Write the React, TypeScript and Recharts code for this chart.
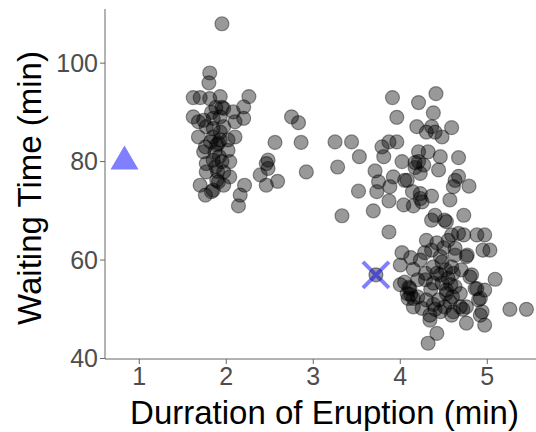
import { Label, Scatter, ScatterChart, XAxis, YAxis } from "recharts";

// eruption duration (min)
const durations = [
  1.95, 1.81, 1.8, 1.62, 1.7, 1.81, 1.93, 2.26, 2.2, 2.08, 1.97, 1.62, 1.68, 1.85, 1.93, 2.2, 2.1, 1.85,
  1.97, 1.77, 1.68, 2.1, 1.93, 2.02, 1.89, 1.76, 1.85, 1.91, 1.74, 2.02, 1.85, 1.77, 2.04, 1.77, 1.97, 1.89,
  2.04, 1.7, 1.85, 1.97, 1.76, 2.21, 2.16, 2.14, 2.39, 2.46, 2.46, 1.74, 2.75, 2.83, 2.56, 2.86, 2.92, 2.48,
  2.48, 2.59, 1.83, 1.91, 1.87, 1.92, 1.88, 1.93, 1.95, 1.83, 1.9, 1.82, 1.95, 1.88,
  3.91, 3.96, 3.25, 3.44, 3.53, 3.28, 3.79, 3.87, 3.96, 3.81, 4.02, 3.71, 3.75, 3.92, 3.88, 4.05, 3.73,
  3.87, 4.04, 3.52, 3.69, 3.33, 3.87, 4.21, 4.19, 4.3, 4.21, 4.21, 4.27, 4.17, 4.23, 4.41, 4.38, 4.36, 4.4,
  4.59, 4.48, 4.32, 4.46, 4.67, 4.17, 4.44, 4.67, 4.63, 4.61, 4.79, 4.08, 4.14, 4.23, 4.23,
  4.25, 4.36, 4.15, 4.57, 4.4, 4.36, 4.51, 4.53, 4.73,
  4.59, 4.67, 4.36, 4.46, 4.23, 4.15, 4.38, 4.48, 4.63, 4.59, 4.46, 4.55, 4.38, 4.29, 4.11, 4.08, 4.15, 4.25,
  4.34, 4.46, 4.59, 4.34, 4.15, 4.42, 4.32, 4.69, 4.53, 4.63, 4.44, 4.3, 4.51, 3.72, 4.73, 4.88, 4.97, 4.95,
  5.03, 4.63, 4.76, 4.29, 4.42, 4.61, 4.8, 5.09, 4.48, 4.53, 4.69, 4.86, 4.97, 4.92, 4.09, 4.61, 4.76, 4.94,
  4.76, 4.97, 4.77, 4.82, 4.88, 4.9, 5.26, 5.45, 4.92, 4.1, 4.12, 4.2, 4.38, 4.4, 4.72, 4.57, 4.6, 4.05, 4.2,
  4.35, 4.5, 4.42, 4.55, 4.28, 4.7, 4.52, 4.3, 4.12, 4.58, 4.0, 4.0, 4.02,
];

// waiting time (min), same order as durations
const waitingTimes = [
  108, 98, 96, 93, 93, 92.8, 93.2, 93.2, 91.1, 90.1, 90.8, 89.1, 88.1, 88.8, 89.1, 88.8, 88.1, 86.7,
  87.1, 87.1, 85, 85, 84.4, 84.4, 83.4, 83, 85, 83.7, 82, 82.3, 80.3, 79.6, 80, 77.9, 77.9, 76.2,
  76.9, 75.2, 74.2, 75.2, 73.2, 75.2, 73.2, 71, 77.3, 79.6, 75.2, 88.4, 89.1, 87.9, 83.9, 83.9, 77.9, 80.3,
  78.6, 76, 73.9, 75.9, 82, 81, 79, 86, 91, 90, 78, 84, 80, 91,
  93, 89, 84, 84, 81, 78.9, 83, 84, 84, 81, 80, 78.1, 75.9, 76.9, 74.9, 76.2, 73.9,
  72, 71.2, 74, 70, 69, 65.7, 92, 87.1, 86, 82, 80, 79.3, 78.8, 77.6, 93.8, 89.9, 87.1, 86,
  86.9, 85, 82, 81, 80.8, 79.8, 78.3, 77, 76.2, 74.9, 75, 76.2, 73.9, 73.5, 72.5,
  71.8, 73, 71, 72.2, 69.1, 68.1, 68.1, 67.8, 69.1,
  65.1, 65.4, 62, 60.7, 60, 58.1, 58.6, 59.6, 61, 58.6, 57, 56.3, 55.3, 56, 54.2, 53.2, 50.5, 50.2,
  48.8, 49.5, 48.8, 47.8, 52.2, 45.1, 43.1, 50.5, 53.2, 54.6, 51.9, 51.9, 50.5, 57, 65.1, 65.1, 65.1, 62,
  62, 62.4, 60.7, 57.3, 57.3, 57.3, 56.6, 56.1, 55.3, 53.9, 53.2, 54.2, 53.9, 52.2, 52.2, 49.5, 50.5, 49.5,
  47.2, 46.8, 61, 57, 54.2, 51.9, 50, 50, 48.8, 54.5, 53, 52.5, 51, 50, 50, 51.5, 52.5, 55.5, 56,
  54, 62.5, 63.5, 64, 61.5, 58, 58, 64, 60.5, 55, 59, 55, 61.5,
];

// the two marked points
const triangleDuration = [0.83];
const triangleWaiting = [80];
const crossDuration = [3.72];
const crossWaiting = [57];

const xTicks = [1, 2, 3, 4, 5];
const yTicks = [40, 60, 80, 100];

const points = durations.map((d, i) => ({ duration: d, waiting: waitingTimes[i] }));
const trianglePoints = triangleDuration.map((d, i) => ({ duration: d, waiting: triangleWaiting[i] }));
const crossPoints = crossDuration.map((d, i) => ({ duration: d, waiting: crossWaiting[i] }));

const lineColor = "#666666";
const tickText = { fontSize: 25, fill: "#4d4d4d" };

function GreyDot(props: any) {
  const { cx, cy } = props;
  return (
    <circle cx={cx} cy={cy} r={7} fill="#000" fillOpacity={0.4} stroke="#000" strokeOpacity={0.4} strokeWidth={1.2} />
  );
}

function BlueTriangle(props: any) {
  const { cx, cy } = props;
  const d = `M${cx},${cy - 16} L${cx + 14},${cy + 8} L${cx - 14},${cy + 8} Z`;
  return <path d={d} fill="#0000ff" fillOpacity={0.5} />;
}

function BlueCross(props: any) {
  const { cx, cy } = props;
  const s = 13;
  const d = `M${cx - s},${cy - s} L${cx + s},${cy + s} M${cx - s},${cy + s} L${cx + s},${cy - s}`;
  return <path d={d} fill="none" stroke="#0000ff" strokeOpacity={0.5} strokeWidth={4} />;
}

export default function App() {
  return (
    <div
      style={{
        position: "absolute",
        left: 0,
        top: 0,
        width: 536,
        height: 432,
        background: "#fff",
        fontFamily: "'Liberation Sans', Arial, sans-serif",
      }}
    >
      <ScatterChart width={536} height={432} margin={{ top: 9, right: 0, bottom: 0, left: 0 }}>
        <XAxis
          type="number"
          dataKey="duration"
          domain={[0.606, 5.56]}
          allowDataOverflow
          ticks={xTicks}
          height={73}
          tick={tickText}
          tickSize={5}
          tickMargin={3}
          stroke={lineColor}
          axisLine={{ stroke: lineColor }}
          tickLine={{ stroke: lineColor }}
        >
          <Label
            value="Durration of Eruption (min)"
            position="insideBottom"
            offset={8}
            dx={4}
            style={{ fontSize: 33, fill: "#000" }}
          />
        </XAxis>
        <XAxis
          xAxisId="top"
          orientation="top"
          type="number"
          domain={[0.606, 5.56]}
          height={0}
          tick={false}
          tickLine={false}
          axisLine={{ stroke: lineColor }}
        />
        <YAxis
          type="number"
          dataKey="waiting"
          domain={[39.9, 111]}
          allowDataOverflow
          ticks={yTicks}
          width={105}
          tick={tickText}
          tickSize={5}
          tickMargin={2}
          axisLine={{ stroke: lineColor }}
          tickLine={{ stroke: lineColor }}
        >
          <Label
            value="Waiting Time (min)"
            angle={-90}
            position="insideLeft"
            offset={29}
            dy={4}
            style={{ fontSize: 33, fill: "#000", textAnchor: "middle" }}
          />
        </YAxis>
        <Scatter data={points} shape={GreyDot} isAnimationActive={false} />
        <Scatter data={trianglePoints} shape={BlueTriangle} isAnimationActive={false} />
        <Scatter data={crossPoints} shape={BlueCross} isAnimationActive={false} />
      </ScatterChart>
    </div>
  );
}
